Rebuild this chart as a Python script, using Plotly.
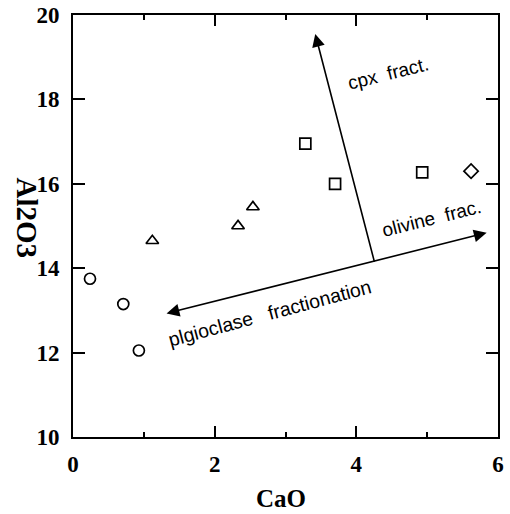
import plotly.graph_objects as go

# CaO / Al2O3 data by group
circle_cao = [0.24, 0.71, 0.93]
circle_al = [13.75, 13.15, 12.05]
triangle_cao = [1.12, 2.33, 2.54]
triangle_al = [14.65, 15.0, 15.45]
square_cao = [3.28, 3.70, 4.93]
square_al = [16.95, 16.0, 16.27]
diamond_cao = [5.62]
diamond_al = [16.3]

# fractionation vectors (common origin, three directions)
vec_origin = (4.26, 14.12)
cpx_tip = (3.42, 19.55)
olivine_tip = (5.84, 14.84)
plag_tip = (1.30, 12.92)

x_ticks = [0, 2, 4, 6]
y_ticks = [10, 12, 14, 16, 18, 20]

SERIF = "Times New Roman, Liberation Serif, DejaVu Serif, serif"
SANS = "Liberation Sans, Arial, sans-serif"

fig = go.Figure()

def add_group(xs, ys, symbol, size):
    fig.add_trace(go.Scatter(
        x=xs, y=ys, mode="markers",
        marker=dict(symbol=symbol, size=size, color="white",
                    line=dict(color="black", width=1.7)),
        showlegend=False, cliponaxis=False))

add_group(circle_cao, circle_al, "circle", 11)
add_group(triangle_cao, triangle_al, "triangle-up", 11)
add_group(square_cao, square_al, "square", 11)
add_group(diamond_cao, diamond_al, "diamond", 11)

arrow_style = dict(showarrow=True, arrowhead=2, arrowsize=1.6, arrowwidth=1.6,
                   arrowcolor="black", xref="x", yref="y", axref="x", ayref="y", text="")

fig.add_annotation(x=cpx_tip[0], y=cpx_tip[1], ax=vec_origin[0], ay=vec_origin[1], **arrow_style)
fig.add_annotation(x=olivine_tip[0], y=olivine_tip[1], ax=plag_tip[0], ay=plag_tip[1],
                   arrowside="end+start", **arrow_style)

label_font = dict(family=SANS, size=19, color="black")
fig.add_annotation(x=4.45, y=18.62, text="cpx  fract.", showarrow=False,
                   textangle=-14, font=label_font)
fig.add_annotation(x=5.06, y=15.18, text="olivine  frac.", showarrow=False,
                   textangle=-14, font=label_font)
fig.add_annotation(x=2.77, y=12.95, text="plgioclase   fractionation", showarrow=False,
                   textangle=-15, font=dict(family=SANS, size=19.5, color="black"))

serif_bold = dict(family=SERIF, size=23, color="black", weight="bold")

# axis titles
fig.add_annotation(x=-0.108, y=0.52, xref="paper", yref="paper", xanchor="center",
                   yanchor="middle", text="Al2O3", showarrow=False, textangle=90,
                   font=dict(family=SERIF, size=29, color="black", weight="bold"))
fig.add_annotation(x=0.49, y=-0.145, xref="paper", yref="paper", xanchor="center",
                   yanchor="middle", text="CaO", showarrow=False,
                   font=dict(family=SERIF, size=25, color="black", weight="bold"))

fig.update_xaxes(range=[0, 6], tickvals=x_ticks, ticks="inside", ticklen=11,
                 tickwidth=1.5, tickcolor="black", mirror="ticks", showline=True,
                 linecolor="black", linewidth=1.8, showgrid=False, zeroline=False,
                 minor=dict(dtick=1, ticks="inside", ticklen=5, tickwidth=1.5,
                            tickcolor="black", showgrid=False),
                 tickfont=serif_bold, ticklabelstandoff=5, automargin=False)
fig.update_yaxes(range=[10, 20], tickvals=y_ticks, ticks="inside", ticklen=12,
                 tickwidth=1.5, tickcolor="black", mirror="ticks", showline=True,
                 linecolor="black", linewidth=1.8, showgrid=False, zeroline=False,
                 tickfont=serif_bold, ticklabelstandoff=7, automargin=False)

fig.update_layout(width=510, height=514, margin=dict(l=73, r=12, t=15, b=77),
                  font=dict(family=SERIF, color="black"),
                  plot_bgcolor="white", paper_bgcolor="white", showlegend=False)

fig.write_html("out.html")
